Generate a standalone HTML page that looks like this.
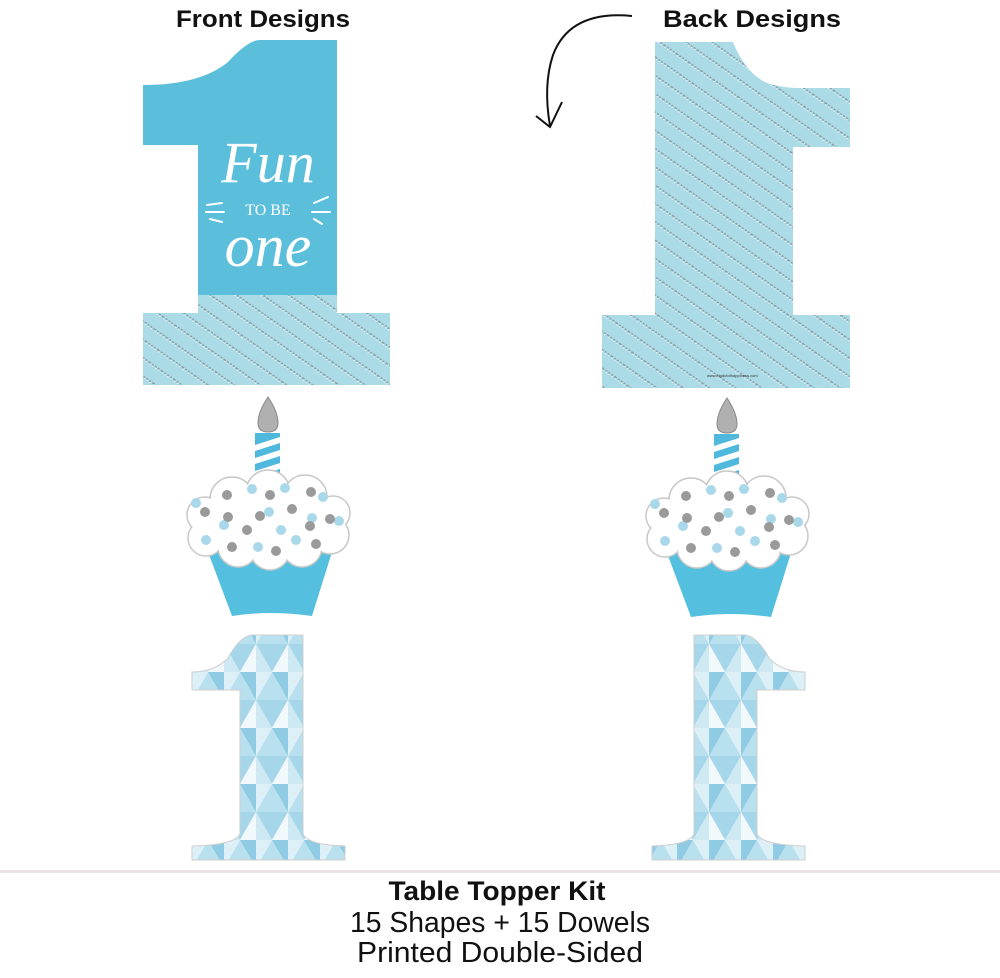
<!DOCTYPE html>
<html><head><meta charset="utf-8"><style>html,body{margin:0;padding:0;background:#fff}svg{display:block}</style></head>
<body>
<svg width="1000" height="978" viewBox="0 0 1000 978" xmlns="http://www.w3.org/2000/svg">
<defs>
<pattern id="str" width="15" height="15" patternUnits="userSpaceOnUse" patternTransform="rotate(35)">
<rect width="15" height="15" fill="#abdbe7"/>
<line x1="0" y1="1" x2="15" y2="1" stroke="#8a9aa3" stroke-width="1.4" stroke-dasharray="2 1.5"/>
<line x1="1" y1="2.3" x2="15" y2="2.3" stroke="#fff" stroke-width="0.8" stroke-dasharray="1.5 2"/>
</pattern>
<pattern id="tri" width="32" height="56" patternUnits="userSpaceOnUse">
<rect width="32" height="56" fill="#fff"/>
<polygon points="0,28 16,0 32,28" fill="#b9e0ee"/>
<polygon points="16,0 32,0 32,28" fill="#8fcbe2"/>
<polygon points="0,0 16,0 0,28" fill="#def0f7"/>
<polygon points="0,28 32,28 16,56" fill="#a6d6e9"/>
<polygon points="16,56 32,28 32,56" fill="#f2f9fc"/>
<polygon points="0,28 16,56 0,56" fill="#cfe9f3"/>
</pattern>
<clipPath id="c1"><path d="M143,85 Q200,85 228,62 Q248,40 260,40 L337,40 L337,313 L390,313 L390,385 L143,385 L143,313 L198,313 L198,145 L143,145 Z"/></clipPath>
<g id="cake">
<path d="M268,397 Q258,412 258,423 Q258,432 268,432 Q278,432 278,423 Q278,412 268,397 Z" fill="#b0b0b0" stroke="#888" stroke-width="1"/>
<rect x="255" y="433" width="25" height="48" fill="#4fb9dd"/>
<polygon points="255,445 280,437 280,443 255,451" fill="#fff"/>
<polygon points="255,458 280,450 280,456 255,464" fill="#fff"/>
<polygon points="255,471 280,463 280,469 255,477" fill="#fff"/>
<path d="M208,552 L332,552 L312,616 Q271,610 232,616 Z" fill="#55bfdf"/>
<g fill="#fff" stroke="#c8c8c8" stroke-width="1.5">
<circle cx="205" cy="515" r="18"/><circle cx="232" cy="499" r="22"/><circle cx="268" cy="492" r="22"/><circle cx="305" cy="497" r="22"/><circle cx="333" cy="513" r="17"/>
<circle cx="206" cy="538" r="18"/><circle cx="238" cy="547" r="20"/><circle cx="270" cy="550" r="20"/><circle cx="302" cy="547" r="20"/><circle cx="330" cy="535" r="19"/>
</g>
<g fill="#fff"><circle cx="205" cy="515" r="17"/><circle cx="232" cy="499" r="21"/><circle cx="268" cy="492" r="21"/><circle cx="305" cy="497" r="21"/><circle cx="333" cy="513" r="16"/>
<circle cx="206" cy="538" r="17"/><circle cx="238" cy="547" r="19"/><circle cx="270" cy="550" r="19"/><circle cx="302" cy="547" r="19"/><circle cx="330" cy="535" r="18"/>
<ellipse cx="268" cy="522" rx="62" ry="28"/></g>
<g fill="#a9d8ea"><circle cx="196" cy="503" r="5"/><circle cx="252" cy="489" r="5"/><circle cx="285" cy="488" r="5"/><circle cx="323" cy="497" r="5"/><circle cx="269" cy="512" r="5"/><circle cx="224" cy="525" r="5"/><circle cx="281" cy="530" r="5"/><circle cx="312" cy="518" r="5"/><circle cx="206" cy="540" r="5"/><circle cx="258" cy="547" r="5"/><circle cx="296" cy="540" r="5"/><circle cx="339" cy="521" r="5"/></g>
<g fill="#9a9a9a"><circle cx="227" cy="495" r="5"/><circle cx="270" cy="495" r="5"/><circle cx="311" cy="492" r="5"/><circle cx="205" cy="512" r="5"/><circle cx="228" cy="517" r="5"/><circle cx="260" cy="516" r="5"/><circle cx="292" cy="509" r="5"/><circle cx="330" cy="519" r="5"/><circle cx="247" cy="530" r="5"/><circle cx="310" cy="526" r="5"/><circle cx="232" cy="547" r="5"/><circle cx="276" cy="551" r="5"/><circle cx="316" cy="544" r="5"/></g>
</g>
<path id="one" d="M192,672 Q215,672 228,658 Q240,636 252,635 L303,635 L303,834 Q308,845 345,846 L345,860 L192,860 L192,846 Q235,845 240,834 L240,690 L192,690 Z" fill="url(#tri)" stroke="#cfcfcf" stroke-width="1"/>
</defs>

<text x="263" y="27" text-anchor="middle" font-family="Liberation Sans, sans-serif" font-weight="bold" font-size="24" textLength="174" lengthAdjust="spacingAndGlyphs" fill="#111">Front Designs</text>
<text x="752" y="27" text-anchor="middle" font-family="Liberation Sans, sans-serif" font-weight="bold" font-size="24" textLength="178" lengthAdjust="spacingAndGlyphs" fill="#111">Back Designs</text>

<path d="M632,16 Q570,10 553,55 Q543,85 550,126" fill="none" stroke="#111" stroke-width="2"/>
<path d="M536,116 L550,127 L562,102" fill="none" stroke="#111" stroke-width="2"/>

<g clip-path="url(#c1)">
<rect x="140" y="295" width="255" height="95" fill="url(#str)"/>
<rect x="140" y="35" width="255" height="260" fill="#5bbfdc"/>
</g>
<g fill="#fff" font-family="Liberation Serif, serif">
<text x="268" y="182" text-anchor="middle" font-style="italic" font-size="58">Fun</text>
<text x="268" y="215" text-anchor="middle" font-size="16">TO BE</text>
<text x="268" y="266" text-anchor="middle" font-style="italic" font-size="60">one</text>
</g>
<g stroke="#fff" stroke-width="2" stroke-linecap="round">
<line x1="207" y1="205" x2="222" y2="203"/><line x1="206" y1="212" x2="224" y2="212"/><line x1="210" y1="219" x2="222" y2="222"/>
<line x1="314" y1="203" x2="328" y2="197"/><line x1="312" y1="212" x2="330" y2="212"/><line x1="314" y1="219" x2="322" y2="224"/>
</g>

<path d="M603,42 L733,42 Q745,72 765,82 Q780,88 800,88 L850,88 L850,147 L793,147 L793,315 L850,315 L850,388 L602,388 L602,315 L655,315 L655,42 Z" fill="url(#str)"/>
<text x="707" y="377" font-family="Liberation Sans, sans-serif" font-size="4" fill="#333">www.bigdotofhappiness.com</text>

<use href="#cake"/>
<use href="#cake" transform="translate(459,1)"/>

<use href="#one"/>
<use href="#one" transform="translate(997,0) scale(-1,1)"/>

<rect x="0" y="870" width="1000" height="3" fill="#ece4e4"/>
<g font-family="Liberation Sans, sans-serif" text-anchor="middle" fill="#111">
<text x="497" y="900" font-size="27" font-weight="bold" textLength="217" lengthAdjust="spacingAndGlyphs">Table Topper Kit</text>
<text x="500" y="932" font-size="29" textLength="300" lengthAdjust="spacingAndGlyphs">15 Shapes + 15 Dowels</text>
<text x="500" y="962" font-size="29" textLength="286" lengthAdjust="spacingAndGlyphs">Printed Double-Sided</text>
</g>
</svg>
</body></html>
